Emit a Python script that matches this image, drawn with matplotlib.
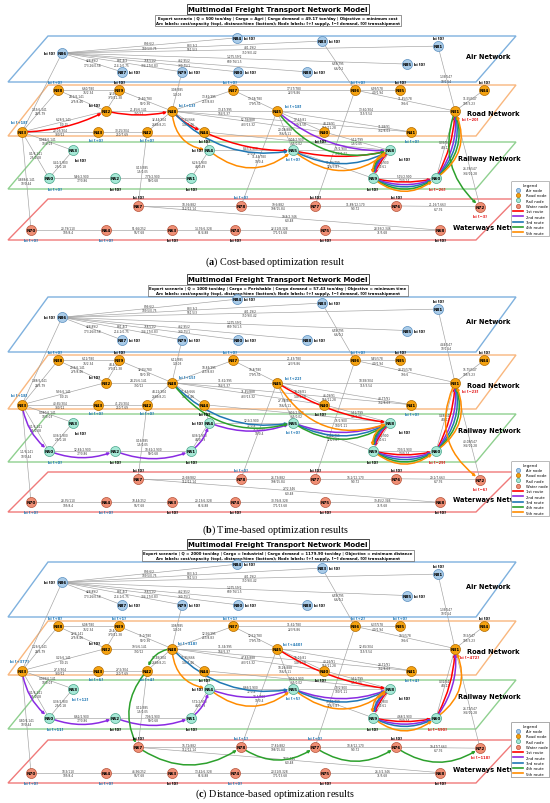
import matplotlib
matplotlib.use("Agg")
import matplotlib.pyplot as plt
from matplotlib.patches import Polygon, FancyArrowPatch
from matplotlib.lines import Line2D

plt.rcParams['mathtext.fontset'] = 'custom'
plt.rcParams['mathtext.rm'] = 'Liberation Serif'
plt.rcParams['mathtext.bf'] = 'Liberation Serif:bold'

# ---- network layout: x (px), layer, relative height inside the layer band
NODES = {
    "N84": (237, "air", 0.04), "N86": (62, "air", 0.37), "N87": (122, "air", 0.78),
    "N79": (182, "air", 0.78), "N80": (238, "air", 0.78), "N88": (307, "air", 0.78),
    "N83": (322, "air", 0.11), "N81": (438, "air", 0.22), "N85": (407, "air", 0.61),
    "N38": (58, "road", 0.10), "N39": (119, "road", 0.10), "N37": (233, "road", 0.10),
    "N36": (355, "road", 0.10), "N35": (400, "road", 0.10), "N34": (484, "road", 0.10),
    "N32": (106, "road", 0.51), "N48": (172, "road", 0.51), "N45": (277, "road", 0.51),
    "N31": (455, "road", 0.51),
    "N33": (22, "road", 0.92), "N43": (98, "road", 0.92), "N42": (147, "road", 0.92),
    "N44": (204, "road", 0.92), "N40": (324, "road", 0.92), "N41": (411, "road", 0.92),
    "N53": (73, "rail", 0.18), "N54": (209, "rail", 0.18), "N55": (293, "rail", 0.18),
    "N58": (390, "rail", 0.18),
    "N50": (49, "rail", 0.77), "N52": (115, "rail", 0.77), "N51": (191, "rail", 0.77),
    "N59": (373, "rail", 0.77), "N60": (436, "rail", 0.77),
    "N67": (138, "water", 0.17), "N78": (241, "water", 0.17), "N77": (315, "water", 0.17),
    "N76": (396, "water", 0.17), "N72": (480, "water", 0.19),
    "N70": (31, "water", 0.76), "N64": (106, "water", 0.76), "N63": (172, "water", 0.76),
    "N74": (235, "water", 0.76), "N75": (325, "water", 0.76), "N68": (440, "water", 0.76),
}

# ---- arcs and their labels
EDGES = [("N38", "N39"), ("N38", "N33"), ("N38", "N32"), ("N39", "N48"), ("N39", "N32"),
         ("N79", "N48"), ("N37", "N48"), ("N37", "N45"), ("N37", "N36"), ("N36", "N35"),
         ("N36", "N31"), ("N34", "N31"), ("N81", "N31"), ("N83", "N36"), ("N32", "N33"),
         ("N32", "N48"), ("N33", "N43"), ("N43", "N42"), ("N42", "N48"), ("N48", "N45"),
         ("N45", "N31"), ("N48", "N44"), ("N48", "N40"), ("N45", "N40"), ("N48", "N41"),
         ("N45", "N41"), ("N44", "N58"), ("N45", "N55"), ("N40", "N58"), ("N33", "N53"),
         ("N33", "N50"), ("N53", "N50"), ("N50", "N52"), ("N52", "N51"), ("N51", "N54"),
         ("N54", "N55"), ("N55", "N58"), ("N55", "N59"), ("N58", "N59"), ("N59", "N60"),
         ("N60", "N31"), ("N31", "N72"), ("N44", "N54"), ("N33", "N70"), ("N42", "N67"),
         ("N45", "N78"), ("N36", "N77"), ("N67", "N78"), ("N78", "N77"), ("N77", "N76"),
         ("N76", "N72"), ("N67", "N68"), ("N70", "N64"), ("N64", "N63"), ("N63", "N74"),
         ("N74", "N75"), ("N75", "N68"),
         ("N86", "N84"), ("N86", "N83"), ("N86", "N81"), ("N86", "N87"), ("N86", "N79"),
         ("N86", "N80"), ("N86", "N88"), ("N86", "N85"), ("N86", "N33")]

DIST_TIME = ["76/2.34", "24/5.79", "275/8.46", "50/0.36", "370/11.38",
             "1/0.03", "257/8.83", "179/5.51", "223/6.86", "4.0/1.94",
             "195/6", "105/3.23", "10/1.54", "6.6/0.2", "5/0.15",
             "390/12", "380/12", "250/7.69", "2669/8.21", "164/5.37",
             "115/3.54", "145/4.46", "433/13.32", "149/4.58", "966/11.28",
             "362/8.03", "6.5/0.02", "166/5.11", "1.5/0.05", "10/0.03",
             "2.5/0.08", "2.5/0.18", "77/0.86", "59/0.68", "44/0.49",
             "72/0.8", "100/1.11", "126/3.87", "55/0.61", "13/0.14",
             "4/0.12", "334/10.28", "", "10/0.44", "1.5/0.05",
             "10/0.4", "", "112/12.14", "198/15.84", "9/0.72",
             "6/7.76", "6/0.48", "105/8.4", "96/7.68", "61/4.88",
             "171/13.68", "71/5.68",
             "109.5/0.75", "961.5/3", "350.9/0.42", "173.26/0.58", "214.1/0.75",
             "304.17/0.83", "330.75/1", "609.76/1.5", ""]

AIR_COST = ["899.6/2", "883.3/2", "481.19/2", "428.89/2", "881.4/2",
            "758.51/2", "462.95/2", "1,275.59/2", ""]

COST_A = ["6.60/780", "1.53/6.141", "24.2/6.141", "25.40/780", "32.56/780",
          "3.08/385", "13.82/395", "13.78/780", "17.57/780", "6.93/578",
          "11.45/578", "11.55/547", "1.36/547", "6.59/795", "6.28/6.141",
          "21.45/6.141", "20.03/304", "30.25/304", "32.44/304", "13.47/395",
          "13.60/304", "17.55/666", "52.78/888", "17.63/81", "44.29/91",
          "31.58/91", "9.04/2.900", "20.08/888", "1.12/799", "0.068/6.141",
          "0.1/6.141", "0.41/2.900", "9.46/2.900", "7.79/2.900", "6.26/2.900",
          "8.47/2.900", "15/2.900", "11.35/799", "7.58/2.900", "5.15/2.900",
          "0.35/547", "26.39/547", "", "0.868/6.141", "0.13/385",
          "11.44/780", "", "18.36/882", "19.6/882", "11.88/12.170",
          "21.16/7.663", "19.8/2.346", "20.79/110", "51.66/252", "14.76/6.328",
          "22.51/8.328", "28.93/2.346"] + AIR_COST

COST_B = ["6.12/780", "1.88/6.141", "29.8/6.141", "32.55/780", "44.4/780",
          "6.12/385", "18.84/395", "16.8/780", "21.43/780", "9.45/578",
          "28.25/578", "15.75/547", "4.44/547", "6.59/795", "9.36/6.141",
          "24.25/6.141", "40.65/304", "41.25/304", "44.22/304", "11.61/395",
          "18.98/304", "21.63/666", "71.45/888", "24.09/81", "46.09/91",
          "43.77/91", "9.06/2.900", "27.38/888", "1.12/799", "0.080/6.141",
          "0.1/6.141", "0.36/2.900", "12.84/2.900", "10.62/2.900", "8.36/2.900",
          "12.5/2.900", "15/2.900", "15.46/799", "9.45/2.900", "7.03/2.900",
          "0.48/547", "40.08/547", "", "1.1/6.141", "0.16/385",
          "15.6/780", "", "25.68/882", "26.73/882", "16.2/12.170",
          "29.1/7.663", "27/2.346", "28.35/110", "70.44/252", "20.13/6.328",
          "30.76/8.328", "39.45/2.346"] + AIR_COST

COST_C = ["6.08/780", "1.26/6.141", "22/6.141", "31.0/780", "29.4/780",
          "3.08/385", "12.56/395", "12.51/780", "11.61/780", "6.37/578",
          "19.5/578", "10.5/547", "1.36/547", "6.59/795", "0.25/6.141",
          "19.5/6.141", "27.3/304", "27.5/304", "29.48/304", "11.34/395",
          "12.65/304", "25.95/666", "47.83/888", "16.06/81", "40.26/91",
          "28.71/91", "9.06/2.900", "18.26/888", "1.12/799", "0.058/6.141",
          "0.1/6.141", "0.36/2.900", "8.62/2.900", "7.06/2.900", "5.72/2.900",
          "8.66/2.900", "10/2.900", "10.32/799", "6.3/2.900", "4.68/2.900",
          "0.32/547", "26.72/547", "", "0.80/6.141", "0.12/385",
          "10.4/780", "", "16.72/882", "17.82/882", "10.8/12.170",
          "19.47/7.663", "18/2.346", "18.9/110", "46.96/252", "13.42/6.328",
          "20.51/8.328", "26.3/2.346"] + AIR_COST

# ---- node balances (b_i), nodes not listed are [0]
BI_A = {"N38": "+0", "N37": "+0", "N36": "+0", "N48": "+13", "N45": "+18", "N31": "-20",
        "N33": "+18", "N43": "+0", "N42": "+0", "N41": "+0", "N55": "+0", "N50": "+0",
        "N60": "-26", "N72": "-3", "N78": "+0", "N70": "+0", "N64": "+0"}
BI_B = {"N38": "+0", "N37": "+0", "N36": "+0", "N48": "+15", "N45": "+22", "N31": "-23",
        "N33": "+18", "N43": "+0", "N42": "+0", "N41": "+0", "N55": "+0", "N50": "+0",
        "N60": "-29", "N72": "-6", "N78": "+0", "N70": "+0", "N64": "+0"}
BI_C = {"N38": "+8", "N39": "+1", "N37": "+1", "N36": "+2", "N35": "+0", "N48": "+318",
        "N45": "+440", "N31": "-472", "N33": "+377", "N43": "+6", "N42": "+4", "N41": "+4",
        "N53": "+12", "N55": "+5", "N50": "+11", "N60": "-590", "N72": "-118",
        "N78": "+1", "N77": "+0", "N70": "+0", "N64": "+0", "N74": "+0"}

# ---- optimal routes per panel: (route index, node path)
ROUTES_A = [(0, ["N33", "N32", "N48", "N44", "N55", "N58", "N59", "N60", "N31"]),
            (1, ["N45", "N58", "N59", "N60", "N31"]),
            (2, ["N48", "N55", "N58", "N59", "N60", "N31"]),
            (3, ["N45", "N58", "N59", "N60", "N31", "N72"]),
            (4, ["N48", "N54", "N55", "N58", "N59", "N60", "N31"])]
ROUTES_B = [(0, ["N45", "N58", "N59", "N60", "N31"]),
            (1, ["N33", "N50", "N52", "N51", "N54", "N55", "N58", "N59", "N60", "N31"]),
            (2, ["N48", "N55", "N58", "N59", "N60", "N31"]),
            (3, ["N48", "N55", "N58", "N59", "N60", "N31"]),
            (4, ["N45", "N58", "N59", "N60", "N31", "N72"])]
ROUTES_C = [(0, ["N45", "N58", "N59", "N60", "N31"]),
            (1, ["N33", "N50", "N52", "N51", "N54", "N55", "N58", "N59", "N60", "N31"]),
            (2, ["N48", "N55", "N58", "N59", "N60"]),
            (3, ["N48", "N42", "N67", "N78", "N77", "N76", "N72"]),
            (4, ["N48", "N54", "N55", "N58", "N59", "N60", "N31"])]

SUBTITLES = ["Export scenario | Q = 500 ton/day | Cargo = Agri | Cargo demand = 49.17 ton/day | Objective = minimum cost",
             "Export scenario | Q = 1000 ton/day | Cargo = Perishable | Cargo demand = 57.43 ton/day | Objective = minimum time",
             "Export scenario | Q = 2000 ton/day | Cargo = Industrial | Cargo demand = 1179.90 ton/day | Objective = minimum distance"]
ARC_NOTE = "Arc labels: cost/capacity (top), distance/time (bottom); Node labels: [+] supply, [\u2212] demand, [0] transshipment"
CAPTIONS = [r"($\mathbf{a}$) Cost-based optimization result",
            r"($\mathbf{b}$) Time-based optimization results",
            r"($\mathbf{c}$) Distance-based optimization results"]
ROUTE_NAMES = ["1st route", "2nd route", "3rd route", "4th route", "5th route"]

# ---- styling
ROUTE_COLORS = ["#ff0000", "#8a2be2", "#1f77b4", "#2ca02c", "#ff8c00"]
ROUTE_RAD = [0.12, 0.2, 0.27, 0.34, 0.41]
NODE_FACE = {"air": "#a9cbe8", "road": "#f5a20f", "rail": "#a5e8d6", "water": "#ef8e74"}
NODE_EDGE = {"air": "#5a8fc0", "road": "#b36b00", "rail": "#4aa58a", "water": "#b5533a"}
LAYER_COLOR = {"air": "#7fb1de", "road": "#f9b77e", "rail": "#8fd08f", "water": "#f07a7a"}
LAYER_NAME = {"air": ("Air Network", 466, 0.43), "road": ("Road Network", 467, 0.55),
              "rail": ("Railway Network", 458, 0.33), "water": ("Waterways Network", 453, 0.68)}
LABEL_AT = {("N39", "N32"): 0.25, ("N38", "N32"): 0.4, ("N37", "N48"): 0.4,
            ("N31", "N72"): 0.62, ("N48", "N41"): 0.66, ("N45", "N41"): 0.8}
BI_OFF = {"N84": (7, 0, "left"), "N86": (-7, 0, "right"), "N87": (7, 0, "left"),
          "N79": (7, 0, "left"), "N80": (7, 0, "left"), "N88": (7, 0, "left"),
          "N83": (7, 0, "left"), "N81": (0, -8, "center"), "N85": (7, 0, "left"),
          "N38": (-3, -8, "center"), "N39": (0, -8, "center"), "N37": (-3, -8, "center"),
          "N36": (3, -8, "center"), "N35": (0, -8, "center"), "N34": (0, -8, "center"),
          "N32": (-12, -6, "center"), "N48": (15, -6, "center"), "N45": (16, -5, "center"),
          "N31": (15, 8, "center"), "N33": (-3, -10, "center"), "N43": (-2, 8, "center"),
          "N42": (0, 8, "center"), "N44": (0, 9, "center"), "N40": (-4, 9, "center"),
          "N41": (1, 9, "center"), "N53": (7, 10, "center"), "N54": (-12, 0, "center"),
          "N55": (0, 9, "center"), "N58": (14, 9, "center"), "N50": (6, 11, "center"),
          "N52": (0, 11, "center"), "N51": (0, 11, "center"), "N59": (-1, 11, "center"),
          "N60": (1, 11, "center"), "N67": (0, -9, "center"), "N78": (0, -9, "center"),
          "N77": (0, -9, "center"), "N76": (0, -9, "center"), "N72": (0, 9, "center"),
          "N70": (0, 10, "center"), "N64": (0, 10, "center"), "N63": (0, 10, "center"),
          "N74": (0, 10, "center"), "N75": (0, 10, "center"), "N68": (0, 10, "center")}

PANEL_TOP = [0, 270, 535]
BANDS = [{"air": (37, 83), "road": (86, 137), "rail": (143, 190), "water": (200, 241)},
         {"air": (28, 83), "road": (86, 140), "rail": (145, 193), "water": (203, 243)},
         {"air": (28, 83), "road": (87, 141), "rail": (146, 195), "water": (206, 249)}]
CAPTION_Y = [262, 260, 259]
LEGEND_Y = [180, 190, 186]


def node_xy(name, bands, top):
    x, layer, r = NODES[name]
    y0, y1 = bands[layer]
    return x, top + y0 + r * (y1 - y0)


def draw_panel(ax, k, costs, bi, routes):
    top, bands = PANEL_TOP[k], BANDS[k]

    # title boxes
    ax.text(278, top + 10, "Multimodal Freight Transport Network Model", ha="center", va="center",
            fontsize=5, fontweight="bold",
            bbox=dict(boxstyle="square,pad=0.25", fc="white", ec="black", lw=0.5))
    ax.text(278, top + 21.5, SUBTITLES[k] + "\n" + ARC_NOTE, ha="center", va="center",
            fontsize=2.75, fontweight="bold", linespacing=1.25,
            bbox=dict(boxstyle="square,pad=0.35", fc="white", ec="#444444", lw=0.4))

    # layer planes
    for layer, (y0, y1) in bands.items():
        pts = [(48, top + y0), (516, top + y0), (476, top + y1), (8, top + y1)]
        ax.add_patch(Polygon(pts, closed=True, fill=False, ec=LAYER_COLOR[layer], lw=1.0, zorder=1))
        name, lx, rel = LAYER_NAME[layer]
        ax.text(lx, top + y0 + rel * (y1 - y0), name, fontsize=4.8, fontweight="bold",
                ha="left", va="center", zorder=6)

    # gray arcs with labels
    for (a, b), cost, dt in zip(EDGES, costs, DIST_TIME):
        xa, ya = node_xy(a, bands, top)
        xb, yb = node_xy(b, bands, top)
        ax.plot([xa, xb], [ya, yb], color="#a0a0a0", lw=0.45, zorder=2)
        if cost or dt:
            t = LABEL_AT.get((a, b), 0.5)
            ax.text(xa + t * (xb - xa), ya + t * (yb - ya), cost + "\n" + dt, fontsize=2.1,
                    color="#333333", ha="center", va="center", linespacing=1.1, zorder=3)

    # routes
    for idx, path in routes:
        for a, b in zip(path[:-1], path[1:]):
            arr = FancyArrowPatch(node_xy(a, bands, top), node_xy(b, bands, top),
                                  connectionstyle=f"arc3,rad={ROUTE_RAD[idx]}",
                                  arrowstyle="-|>", mutation_scale=3.5, lw=1.1,
                                  color=ROUTE_COLORS[idx], shrinkA=3.6, shrinkB=3.6, zorder=4)
            ax.add_patch(arr)

    # nodes
    for name, (x, layer, r) in NODES.items():
        nx, ny = node_xy(name, bands, top)
        ax.scatter([nx], [ny], s=52, c=NODE_FACE[layer], edgecolors=NODE_EDGE[layer],
                   linewidths=0.5, zorder=5)
        ax.text(nx, ny, name, fontsize=3, fontweight="bold", ha="center", va="center", zorder=6)
        val = bi.get(name, "0")
        col = "black"
        if val.startswith("+"):
            col = "#1f77b4"
        elif val.startswith("-"):
            col = "#e41a1c"
        dx, dy, ha = BI_OFF[name]
        ax.text(nx + dx, ny + dy, "bi [" + val.replace("-", "\u2212") + "]", fontsize=2.6,
                fontweight="bold", color=col, ha=ha, va="center", zorder=6)

    # legend
    handles = [Line2D([], [], ls="none", marker="o", ms=3, mfc=NODE_FACE[l], mec=NODE_EDGE[l],
                      mew=0.5, label=l.capitalize() + " node")
               for l in ["air", "road", "rail", "water"]]
    handles += [Line2D([], [], color=c, lw=1.2, label=n) for c, n in zip(ROUTE_COLORS, ROUTE_NAMES)]
    leg = ax.legend(handles=handles, title="Legend", loc="upper left",
                    bbox_to_anchor=(509, top + LEGEND_Y[k]), bbox_transform=ax.transData,
                    fontsize=2.7, title_fontsize=2.9, handlelength=2.6, labelspacing=0.35,
                    borderpad=0.5, framealpha=1, edgecolor="#888888", fancybox=True)
    leg.get_frame().set_linewidth(0.4)
    leg.set_zorder(8)
    ax.add_artist(leg)

    ax.text(275, top + CAPTION_Y[k], CAPTIONS[k], fontsize=7.3, family="Liberation Serif",
            ha="center", va="center")


fig = plt.figure(figsize=(5.5, 8.04), dpi=100)
ax = fig.add_axes([0, 0, 1, 1])
ax.set_xlim(0, 550)
ax.set_ylim(804, 0)
ax.axis("off")

for k, (costs, bi, routes) in enumerate([(COST_A, BI_A, ROUTES_A), (COST_B, BI_B, ROUTES_B),
                                          (COST_C, BI_C, ROUTES_C)]):
    draw_panel(ax, k, costs, bi, routes)

fig.savefig("out.png", dpi=100)
